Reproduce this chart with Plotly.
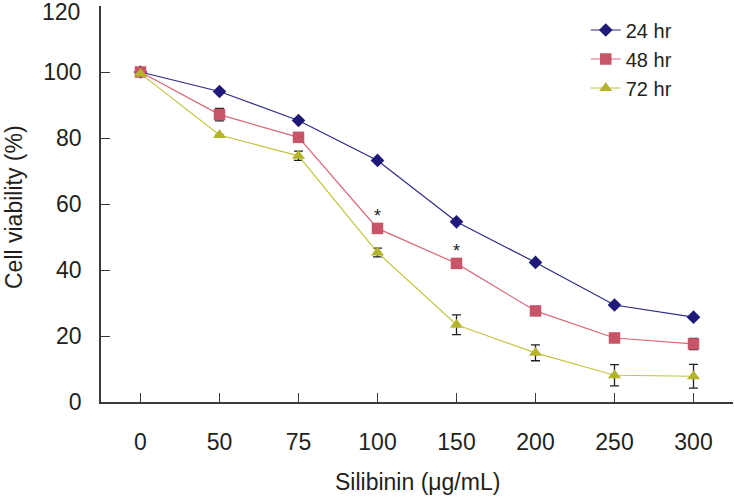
import plotly.graph_objects as go

doses = ["0", "50", "75", "100", "150", "200", "250", "300"]
v24 = [100, 94.1, 85.3, 73.2, 54.6, 42.3, 29.4, 25.7]
v48 = [100, 87.1, 80.2, 52.6, 42.0, 27.6, 19.4, 17.6]
v72 = [99.5, 80.9, 74.6, 45.3, 23.4, 14.9, 8.1, 7.8]
e48 = [0, 1.9, 0, 0, 0, 0, 0, 1.7]
e72 = [0, 0, 1.4, 1.3, 3.0, 2.4, 3.2, 3.6]
sig48 = ["", "", "", "*", "*", "", "", ""]
yticks = [0, 20, 40, 60, 80, 100, 120]

FONT = "Liberation Sans Narrow, Arial Narrow, Liberation Sans, Arial, sans-serif"
INK = "#231f20"

fig = go.Figure()

# error bars first so they sit beneath the markers
for y, err in [(v48, e48), (v72, e72)]:
    fig.add_trace(go.Scatter(
        x=doses, y=y, mode="markers", showlegend=False, hoverinfo="skip",
        marker=dict(size=1, opacity=0),
        error_y=dict(type="data", array=err, visible=True, color=INK,
                     thickness=1.3, width=4.5),
    ))

def add(name, y, line_color, marker_color, symbol, size):
    fig.add_trace(go.Scatter(
        x=doses, y=y, name=name, mode="lines+markers",
        line=dict(color=line_color, width=1.2),
        marker=dict(symbol=symbol, size=size, color=marker_color, line=dict(width=0)),
        cliponaxis=False,
    ))

add("24 hr", v24, "#2a2a86", "#1f1a7a", "diamond", 10.5)
add("48 hr", v48, "#d86878", "#c85468", "square", 11.5)
add("72 hr", v72, "#c4c440", "#b3b42a", "triangle-up", 11.5)

# top tick label drawn as annotation so it is not cut at the page edge
ytext = [str(t) for t in yticks[:-1]] + [""]

annotations = [
    dict(text="Silibinin (μg/mL)", xref="paper", yref="paper", x=0.5, y=0,
         xanchor="center", yanchor="middle", yshift=-80, showarrow=False,
         font=dict(size=23, family=FONT, color=INK)),
    dict(text="Cell viability (%)", xref="paper", yref="paper", x=0, y=0.5,
         xanchor="center", yanchor="middle", xshift=-87, yshift=-3,
         textangle=-90, showarrow=False,
         font=dict(size=23, family=FONT, color=INK)),
    dict(text=str(yticks[-1]), xref="paper", yref="y", x=0, y=yticks[-1],
         xanchor="right", yanchor="middle", xshift=-19, yshift=-6,
         showarrow=False, font=dict(size=23, family=FONT, color=INK)),
]
for i, (v, s) in enumerate(zip(v48, sig48)):
    if s:
        annotations.append(dict(text=s, x=i, y=v, xref="x", yref="y",
                                yanchor="middle", yshift=12, showarrow=False,
                                font=dict(size=18, family=FONT, color=INK)))

fig.update_layout(
    width=734, height=497,
    margin=dict(l=101, r=1, t=6, b=95),
    paper_bgcolor="white", plot_bgcolor="white",
    font=dict(family=FONT, size=23, color=INK),
    showlegend=True,
    legend=dict(x=0.767, y=0.9886, xanchor="left", yanchor="top",
                font=dict(size=20, family=FONT, color=INK),
                bgcolor="rgba(0,0,0,0)", tracegroupgap=0, itemwidth=30),
    xaxis=dict(
        type="category", range=[-0.5, 7.5], automargin=False,
        showline=True, linecolor="#3a3a3a", linewidth=1.8,
        ticks="inside", ticklen=9, tickcolor="#3a3a3a", tickwidth=1.3,
        showgrid=False, zeroline=False,
        tickfont=dict(size=23), ticklabelstandoff=18,
    ),
    yaxis=dict(
        range=[0, 120], tickmode="array", tickvals=yticks, ticktext=ytext,
        automargin=False, ticklabeloverflow="allow",
        showline=True, linecolor="#3a3a3a", linewidth=1.8,
        ticks="inside", ticklen=9, tickcolor="#3a3a3a", tickwidth=1.3,
        showgrid=False, zeroline=False,
        tickfont=dict(size=23), ticklabelstandoff=13,
    ),
    annotations=annotations,
)

fig.write_html("out.html", config={"displayModeBar": False},
               post_script="document.body.style.margin='0px';")
